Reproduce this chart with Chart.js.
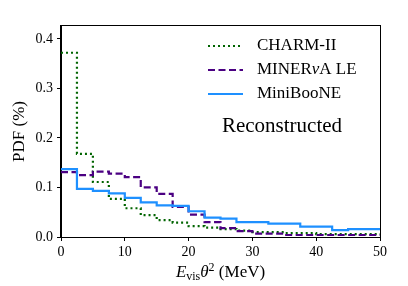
<!DOCTYPE html>
<html>
<head>
<meta charset="utf-8">
<script src="https://cdn.jsdelivr.net/npm/chart.js@4"></script>
<style>
  html, body { margin: 0; padding: 0; background: #fff; }
  #wrap { width: 408px; height: 286px; }
</style>
</head>
<body>
<div id="wrap"><canvas id="pdfChart" width="408" height="286"></canvas></div>
<script>
// bin edges in MeV (Evis * theta^2)
const binEdges = [0, 2.5, 5, 7.5, 10, 12.5, 15, 17.5, 20, 22.5, 25, 27.5, 30, 32.5, 35, 37.5, 40, 42.5, 45, 47.5, 50];

// PDF per bin
const charmII = [0.372, 0.168, 0.111, 0.077, 0.058, 0.044, 0.034, 0.029, 0.022, 0.019, 0.016, 0.013, 0.010, 0.010, 0.008, 0.008, 0.006, 0.006, 0.006, 0.006];
const minervaLE = [0.131, 0.125, 0.132, 0.128, 0.121, 0.100, 0.087, 0.061, 0.045, 0.030, 0.018, 0.012, 0.007, 0.007, 0.004, 0.004, 0.004, 0.004, 0.004, 0.004];
const miniBooNE = [0.137, 0.097, 0.093, 0.088, 0.079, 0.070, 0.064, 0.063, 0.052, 0.039, 0.037, 0.030, 0.030, 0.027, 0.027, 0.021, 0.021, 0.014, 0.016, 0.016];

const xTicks = [0, 10, 20, 30, 40, 50];
const yTicks = [0.0, 0.1, 0.2, 0.3, 0.4];

const serif = "'Liberation Serif', 'DejaVu Serif', serif";

// step histogram points: one per bin start, plus the closing edge
function stepPoints(values) {
    const pts = values.map((v, i) => ({ x: binEdges[i], y: v }));
    pts.push({ x: binEdges[binEdges.length - 1], y: values[values.length - 1] });
    return pts;
}

const frameAndLabels = {
    id: 'frameAndLabels',
    afterDraw(chart) {
        const ctx = chart.ctx;
        const a = chart.chartArea;
        ctx.save();
        // box around the axes
        ctx.strokeStyle = '#000';
        ctx.lineWidth = 1;
        ctx.setLineDash([]);
        ctx.strokeRect(a.left - 0.5, a.top - 0.5, a.right - a.left + 1, a.bottom - a.top + 1);

        // legend, top right
        const items = chart.data.datasets;
        const rowY = [46, 70, 94];
        items.forEach((ds, i) => {
            ctx.beginPath();
            ctx.strokeStyle = ds.borderColor;
            ctx.lineWidth = ds.borderWidth;
            ctx.setLineDash(ds.borderDash || []);
            ctx.moveTo(208, rowY[i]);
            ctx.lineTo(243, rowY[i]);
            ctx.stroke();
        });
        ctx.setLineDash([]);
        ctx.fillStyle = '#000';
        ctx.textBaseline = 'middle';
        ctx.textAlign = 'left';
        ctx.font = '17px ' + serif;
        ctx.fillText('CHARM-II', 257, rowY[0]);
        // MINERνA LE with italic nu
        let x = 257;
        ctx.fillText('MINER', x, rowY[1]);
        x += ctx.measureText('MINER').width;
        ctx.font = 'italic 17px ' + serif;
        ctx.fillText('\u03BD', x, rowY[1]);
        x += ctx.measureText('\u03BD').width;
        ctx.font = '17px ' + serif;
        ctx.fillText('A LE', x, rowY[1]);
        ctx.fillText('MiniBooNE', 257, rowY[2]);

        ctx.textAlign = 'center';
        ctx.font = '21px ' + serif;
        ctx.fillText('Reconstructed', 282, 126);

        // y axis title
        ctx.save();
        ctx.translate(20, (a.top + a.bottom) / 2);
        ctx.rotate(-Math.PI / 2);
        ctx.font = '17px ' + serif;
        ctx.textAlign = 'center';
        ctx.fillText('PDF (%)', 0, 0);
        ctx.restore();

        // x axis title: E_vis theta^2 (MeV)
        const parts = [
            { t: 'E', f: 'italic 17px ', dy: 0 },
            { t: 'vis', f: '12px ', dy: 3 },
            { t: '\u03B8', f: 'italic 17px ', dy: 0 },
            { t: '2', f: '12px ', dy: -6 },
            { t: ' (MeV)', f: '17px ', dy: 0 }
        ];
        let total = 0;
        parts.forEach(p => { ctx.font = p.f + serif; total += ctx.measureText(p.t).width; });
        let px = (a.left + a.right) / 2 - total / 2;
        const base = 277;
        ctx.textAlign = 'left';
        ctx.textBaseline = 'alphabetic';
        parts.forEach(p => {
            ctx.font = p.f + serif;
            ctx.fillText(p.t, px, base + p.dy);
            px += ctx.measureText(p.t).width;
        });
        ctx.restore();
    }
};

const ctx = document.getElementById('pdfChart').getContext('2d');
new Chart(ctx, {
    type: 'line',
    data: {
        datasets: [{
            label: 'CHARM-II',
            data: stepPoints(charmII),
            borderColor: '#006400',
            borderWidth: 2.2,
            borderDash: [2, 3],
            stepped: 'before',
            pointRadius: 0,
            fill: false,
            order: 3
        }, {
            label: 'MINER\u03BDA LE',
            data: stepPoints(minervaLE),
            borderColor: '#4b0082',
            borderWidth: 2.2,
            borderDash: [7, 3.5],
            stepped: 'before',
            pointRadius: 0,
            fill: false,
            order: 2
        }, {
            label: 'MiniBooNE',
            data: stepPoints(miniBooNE),
            borderColor: '#1e90ff',
            borderWidth: 2.2,
            stepped: 'before',
            pointRadius: 0,
            fill: false,
            order: 1
        }]
    },
    options: {
        responsive: false,
        animation: false,
        devicePixelRatio: 1,
        layout: {
            padding: { left: 0, right: 28, top: 26, bottom: 0 }
        },
        plugins: {
            legend: { display: false },
            tooltip: { enabled: false },
            title: { display: false }
        },
        scales: {
            x: {
                type: 'linear',
                min: 0,
                max: 50,
                afterBuildTicks: function (scale) {
                    scale.ticks = xTicks.map(v => ({ value: v }));
                },
                afterFit: function (scale) {
                    scale.height = 49;
                },
                ticks: {
                    color: '#000',
                    font: { family: serif, size: 14 },
                    padding: 3,
                    maxRotation: 0,
                    callback: v => String(v)
                },
                grid: {
                    display: true,
                    drawOnChartArea: false,
                    drawTicks: true,
                    tickLength: 4,
                    color: '#000'
                },
                border: { display: true, color: '#000', width: 1 }
            },
            y: {
                type: 'linear',
                min: 0,
                max: 0.426,
                afterBuildTicks: function (scale) {
                    scale.ticks = yTicks.map(v => ({ value: v }));
                },
                afterFit: function (scale) {
                    scale.width = 61;
                },
                ticks: {
                    color: '#000',
                    font: { family: serif, size: 14 },
                    padding: 4,
                    callback: v => v.toFixed(1)
                },
                grid: {
                    display: true,
                    drawOnChartArea: false,
                    drawTicks: true,
                    tickLength: 4,
                    color: '#000'
                },
                border: { display: true, color: '#000', width: 1 }
            }
        }
    },
    plugins: [frameAndLabels]
});
</script>
</body>
</html>
